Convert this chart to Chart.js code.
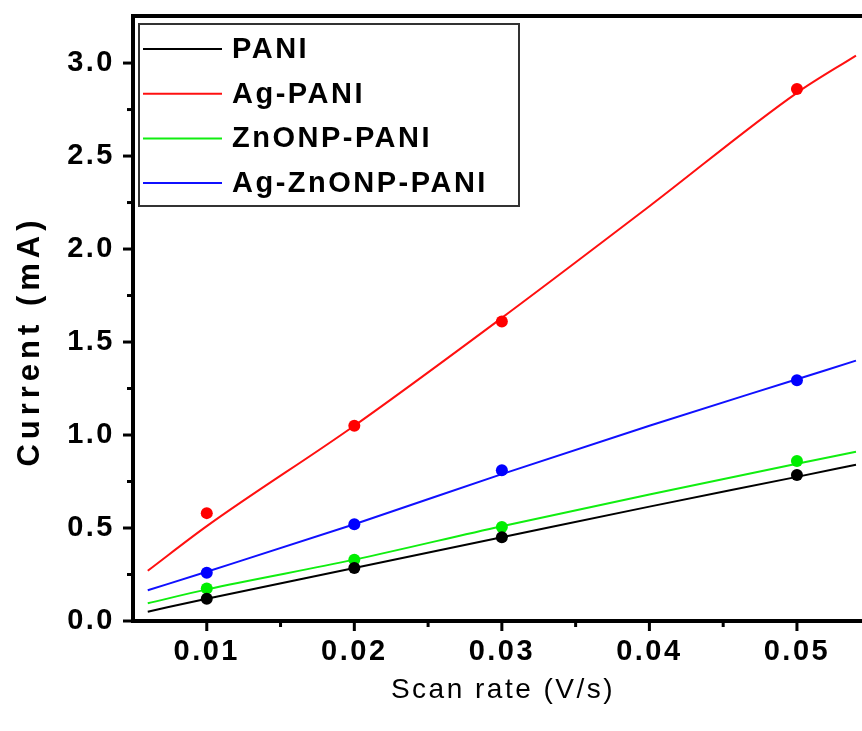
<!DOCTYPE html>
<html>
<head>
<meta charset="utf-8">
<title>Current vs scan rate</title>
<script src="https://cdn.jsdelivr.net/npm/chart.js@4.4.1/dist/chart.umd.min.js"></script>
<style>
  html, body { margin: 0; padding: 0; background: #fff; overflow: hidden; }
  canvas { display: block; }
</style>
</head>
<body>
<canvas id="chart" width="890" height="731"></canvas>
<script>
// --- Measured peak currents (mA) at each scan rate (V/s) ---
const scanRates = [0.01, 0.02, 0.03, 0.05];
const pani      = [0.12, 0.285, 0.45, 0.785];
const agPani    = [0.58, 1.05, 1.61, 2.86];
const znoPani   = [0.175, 0.33, 0.505, 0.86];
const agZnoPani = [0.26, 0.52, 0.81, 1.295];

// --- Fitted curves ---
const fitRates     = [0.006, 0.01, 0.02, 0.03, 0.04, 0.05, 0.054];
const paniFit      = [0.05, 0.12, 0.285, 0.45, 0.615, 0.775, 0.84];
const agPaniFit    = [0.27, 0.51, 1.05, 1.63, 2.23, 2.84, 3.04];
const znoPaniFit   = [0.095, 0.17, 0.33, 0.51, 0.68, 0.845, 0.91];
const agZnoPaniFit = [0.165, 0.265, 0.52, 0.79, 1.05, 1.30, 1.40];

const xTicks = [0.01, 0.02, 0.03, 0.04, 0.05];
const xMinorTicks = [0.015, 0.025, 0.035, 0.045];
const yTicks = [0, 0.5, 1.0, 1.5, 2.0, 2.5, 3.0];
const yMinorTicks = [0.25, 0.75, 1.25, 1.75, 2.25, 2.75];

const FONT = '"Liberation Sans", Arial, sans-serif';
const SPACING = '2.5px';

function pts(xs, ys) {
  return xs.map((x, i) => ({ x, y: ys[i] }));
}

function fitSet(label, color, ys) {
  return {
    label, inLegend: true,
    data: pts(fitRates, ys),
    borderColor: color, backgroundColor: color,
    borderWidth: 2, pointRadius: 0,
    cubicInterpolationMode: 'monotone',
    order: 2
  };
}

function dotSet(label, color, ys) {
  return {
    label, showLine: false,
    data: pts(scanRates, ys),
    borderColor: color, backgroundColor: color,
    pointRadius: 6, pointBorderWidth: 0,
    order: 1
  };
}

// letter spacing gets reset whenever the canvas is resized, so set it each pass
const spacingPlugin = {
  id: 'spacing',
  beforeUpdate(chart) { chart.ctx.letterSpacing = SPACING; },
  beforeDraw(chart) { chart.ctx.letterSpacing = SPACING; }
};

// --- Frame, tick marks, axis titles and the boxed legend ---
const decorPlugin = {
  id: 'decor',
  afterDraw(chart) {
    const { ctx, chartArea, scales } = chart;
    const x = scales.x, y = scales.y;
    ctx.save();
    ctx.strokeStyle = '#000';

    // top frame line
    ctx.lineWidth = 4;
    ctx.beginPath();
    ctx.moveTo(chartArea.left - 2, chartArea.top);
    ctx.lineTo(chartArea.right, chartArea.top);
    ctx.stroke();

    // tick marks, pointing out of the plot
    ctx.lineWidth = 3;
    const tick = (x1, y1, x2, y2) => {
      ctx.beginPath(); ctx.moveTo(x1, y1); ctx.lineTo(x2, y2); ctx.stroke();
    };
    const bottom = chartArea.bottom, left = chartArea.left;
    xTicks.forEach(v => { const p = x.getPixelForValue(v); tick(p, bottom, p, bottom + 10); });
    xMinorTicks.forEach(v => { const p = x.getPixelForValue(v); tick(p, bottom, p, bottom + 6); });
    yTicks.forEach(v => { const p = y.getPixelForValue(v); tick(left, p, left - 10, p); });
    yMinorTicks.forEach(v => { const p = y.getPixelForValue(v); tick(left, p, left - 6, p); });

    // axis titles
    ctx.fillStyle = '#000';
    ctx.textAlign = 'center';
    ctx.textBaseline = 'middle';
    ctx.letterSpacing = '2.5px';
    ctx.font = 'normal 28px ' + FONT;
    ctx.fillText('Scan rate (V/s)', 503, 690);
    ctx.save();
    ctx.translate(30, 341);
    ctx.rotate(-Math.PI / 2);
    ctx.letterSpacing = '5px';
    ctx.font = 'bold 31px ' + FONT;
    ctx.fillText('Current (mA)', 0, 0);
    ctx.restore();

    // legend box
    ctx.letterSpacing = SPACING;
    ctx.lineWidth = 2;
    ctx.strokeStyle = '#333';
    ctx.strokeRect(139, 24, 380, 182);
    ctx.font = 'bold 29px ' + FONT;
    ctx.textAlign = 'left';
    const entries = chart.data.datasets.filter(d => d.inLegend);
    entries.forEach((d, i) => {
      const rowY = 49 + i * 44.7;
      ctx.strokeStyle = d.borderColor;
      ctx.lineWidth = 2;
      ctx.beginPath();
      ctx.moveTo(143, rowY);
      ctx.lineTo(222, rowY);
      ctx.stroke();
      ctx.fillStyle = '#000';
      ctx.fillText(d.label, 232, rowY + 1);
    });
    ctx.restore();
  }
};

const tickFont = { family: FONT, size: 29, weight: 'bold' };

new Chart(document.getElementById('chart'), {
  type: 'line',
  data: {
    datasets: [
      fitSet('PANI', '#000000', paniFit),
      fitSet('Ag-PANI', '#ff1010', agPaniFit),
      fitSet('ZnONP-PANI', '#10ee10', znoPaniFit),
      fitSet('Ag-ZnONP-PANI', '#1010ff', agZnoPaniFit),
      dotSet('PANI', '#000000', pani),
      dotSet('Ag-PANI', '#ff0000', agPani),
      dotSet('ZnONP-PANI', '#00ee00', znoPani),
      dotSet('Ag-ZnONP-PANI', '#0000ff', agZnoPani)
    ]
  },
  options: {
    responsive: false,
    animation: false,
    devicePixelRatio: 1,
    layout: { padding: { top: 16, left: 0, right: 0, bottom: 0 } },
    plugins: {
      legend: { display: false },
      tooltip: { enabled: false }
    },
    scales: {
      x: {
        type: 'linear',
        min: 0.005,
        max: 0.0559,
        grid: { display: false, drawTicks: false },
        border: { display: true, width: 4, color: '#000' },
        ticks: {
          font: tickFont, color: '#000', padding: 14,
          callback: v => v.toFixed(2)
        },
        afterBuildTicks: s => { s.ticks = xTicks.map(v => ({ value: v })); },
        afterFit: s => { s.height = 110; s.paddingLeft = 0; s.paddingRight = 0; }
      },
      y: {
        type: 'linear',
        min: 0,
        max: 3.253,
        grid: { display: false, drawTicks: false },
        border: { display: true, width: 4, color: '#000' },
        ticks: {
          font: tickFont, color: '#000', padding: 18,
          callback: v => v.toFixed(1)
        },
        afterBuildTicks: s => { s.ticks = yTicks.map(v => ({ value: v })); },
        afterFit: s => { s.width = 133; s.paddingTop = 0; s.paddingBottom = 0; }
      }
    }
  },
  plugins: [spacingPlugin, decorPlugin]
});
</script>
</body>
</html>
